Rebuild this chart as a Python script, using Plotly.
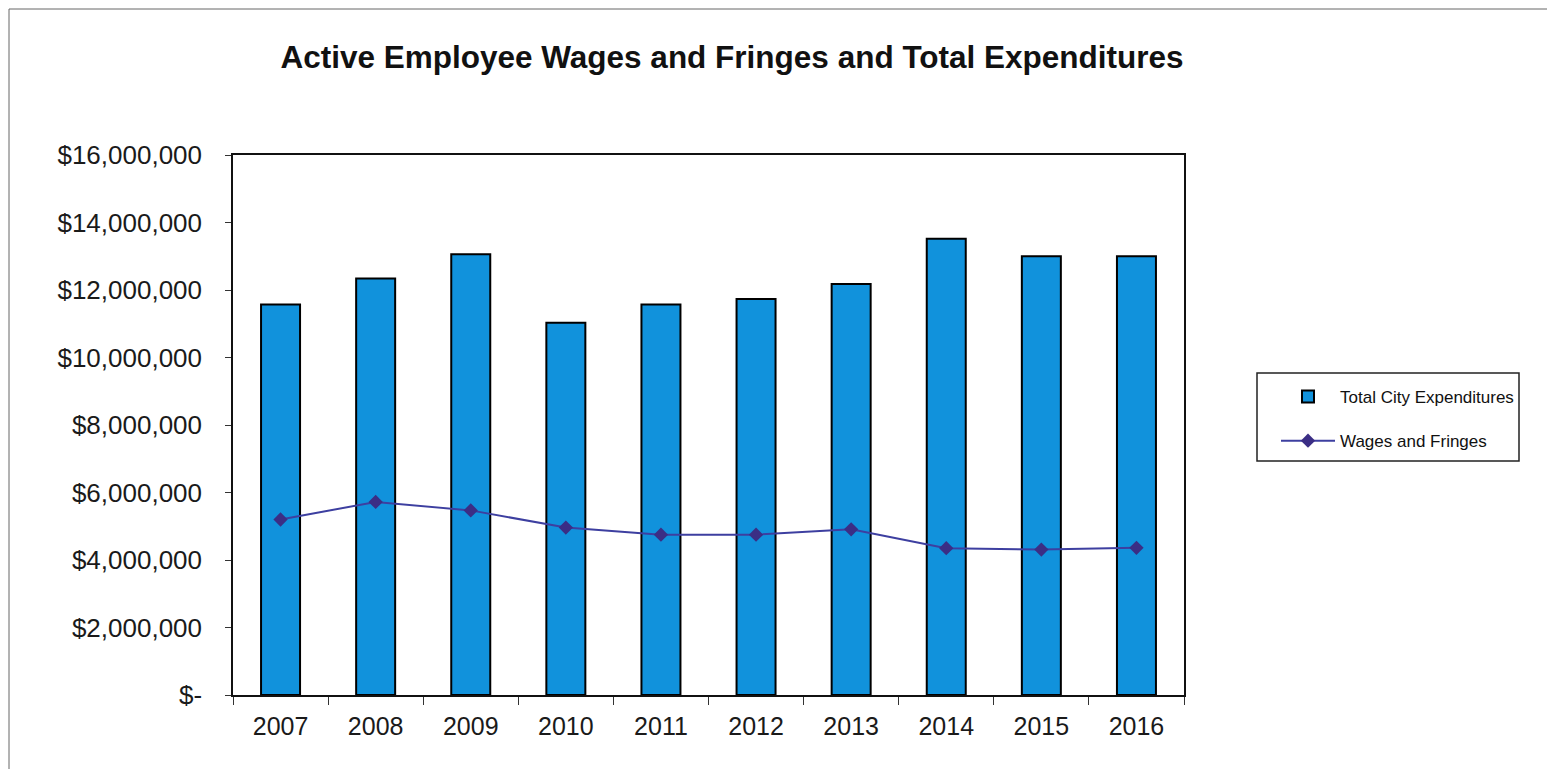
import plotly.graph_objects as go

years = ["2007", "2008", "2009", "2010", "2011", "2012", "2013", "2014", "2015", "2016"]
total_expenditures = [11570000, 12340000, 13060000, 11030000, 11570000, 11730000, 12180000, 13520000, 13000000, 13000000]
wages_fringes = [5200000, 5720000, 5470000, 4960000, 4750000, 4750000, 4910000, 4350000, 4310000, 4360000]
y_tickvals = [0, 2000000, 4000000, 6000000, 8000000, 10000000, 12000000, 14000000, 16000000]
y_ticktext = ["$-", "$2,000,000", "$4,000,000", "$6,000,000", "$8,000,000",
              "$10,000,000", "$12,000,000", "$14,000,000", "$16,000,000"]

OFF = 8  # page body margin
W, H = 1555 - 2 * OFF, 777 - 2 * OFF
L, T = 233 - OFF, 155 - OFF
R = W - (1184 - OFF)
B = H - (695 - OFF)
pw, ph = W - L - R, H - T - B

def px(x):
    return (x - OFF - L) / pw

def py(y):
    return (H - B - (y - OFF)) / ph

fig = go.Figure()
fig.add_trace(go.Bar(
    x=years, y=total_expenditures, name="Total City Expenditures",
    marker=dict(color="#1192DC", line=dict(color="#000000", width=2)),
    legendgroup="a",
))
fig.add_trace(go.Scatter(
    x=years, y=wages_fringes, name="Wages and Fringes", mode="lines+markers",
    line=dict(color="#3D3FA0", width=2),
    marker=dict(symbol="diamond", size=11, color="#3B2E85"),
    legendgroup="b",
))

font_family = "Liberation Sans, Arial, sans-serif"
fig.update_layout(
    width=W, height=H,
    margin=dict(l=L, r=R, t=T, b=B),
    paper_bgcolor="white", plot_bgcolor="white",
    font=dict(family=font_family, color="#1a1a1a"),
    title=dict(text="<b>Active Employee Wages and Fringes and Total Expenditures</b>",
               x=(732 - OFF) / W, xref="container", xanchor="center",
               y=1 - (57 - OFF) / H, yref="container", yanchor="middle",
               font=dict(size=31.5, color="#111111", family=font_family)),
    bargap=0.59,
    showlegend=True,
    legend=dict(x=px(1276), y=py(379), xanchor="left", yanchor="top",
                borderwidth=0,
                font=dict(size=17, color="#111111"),
                traceorder="grouped", tracegroupgap=19,
                itemwidth=54, bgcolor="rgba(0,0,0,0)"),
)
fig.update_xaxes(
    type="category", range=[-0.5, len(years) - 0.5],
    showline=True, linecolor="#111111", linewidth=1.5,
    mirror=True, ticks="outside", tickson="boundaries", ticklen=8,
    tickcolor="#333333", tickfont=dict(size=25, color="#1a1a1a"),
    showgrid=False, ticklabelstandoff=8,
)
fig.update_yaxes(
    range=[0, 16000000], tickvals=y_tickvals, ticktext=y_ticktext,
    showline=True, linecolor="#111111", linewidth=1.5, mirror=True,
    ticks="outside", ticklen=6, tickcolor="#333333",
    tickfont=dict(size=26, color="#1a1a1a"), showgrid=False,
    zeroline=False, ticklabelstandoff=18,
)
# outer chart frame (left and top edges)
fig.add_shape(type="line", xref="paper", yref="paper",
              x0=px(9), x1=px(9), y0=py(800), y1=py(9),
              line=dict(color="#666666", width=1))
fig.add_shape(type="line", xref="paper", yref="paper",
              x0=px(9), x1=px(1560), y0=py(9), y1=py(9),
              line=dict(color="#666666", width=1))
# legend box
fig.add_shape(type="rect", xref="paper", yref="paper",
              x0=px(1257), x1=px(1519), y0=py(461), y1=py(373),
              line=dict(color="#222222", width=1.5), fillcolor="rgba(0,0,0,0)")

fig.write_html("out.html")
